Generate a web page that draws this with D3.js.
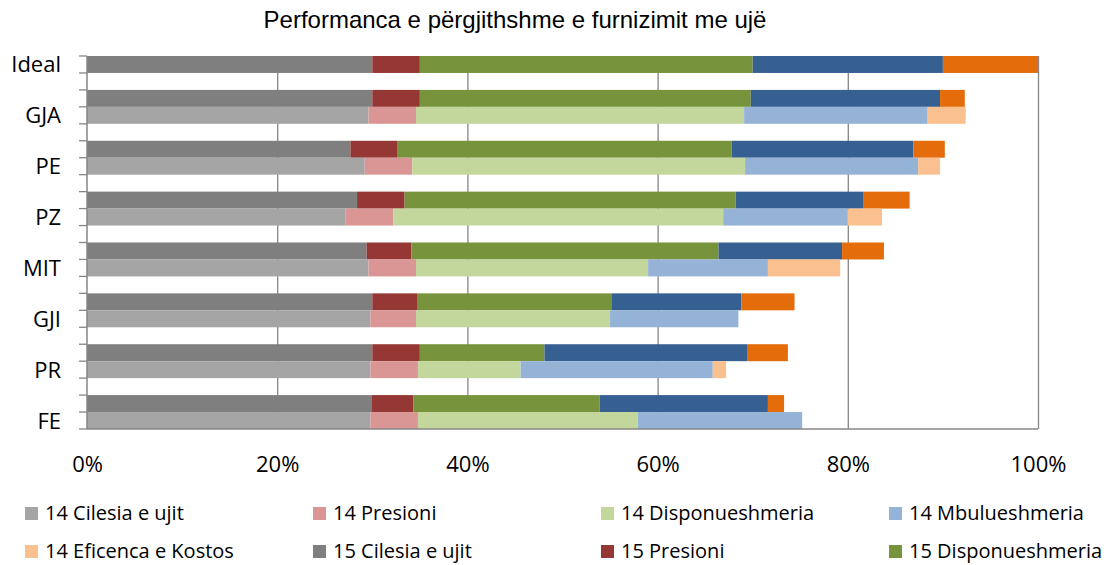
<!DOCTYPE html>
<html>
<head>
<meta charset="utf-8">
<script src="https://cdn.jsdelivr.net/npm/d3@7/dist/d3.min.js"></script>
<style>
  body { margin: 0; background: #fff; }
  svg { display: block; }
</style>
</head>
<body>
<svg id="chart" width="1111" height="565"></svg>
<script>
const categories = ["Ideal", "GJA", "PE", "PZ", "MIT", "GJI", "PR", "FE"];

// 2015 values (%) per category
const cilesia15 = [30, 30, 27.7, 28.4, 29.4, 30.0, 30.0, 29.9];
const presioni15 = [5, 5, 4.9, 5.0, 4.7, 4.7, 5.0, 4.4];
const disponueshmeria15 = [35, 34.8, 35.2, 34.8, 32.3, 20.5, 13.1, 19.6];
const mbulueshmeria15 = [20, 19.9, 19.1, 13.4, 13.0, 13.6, 21.3, 17.7];
const eficenca15 = [10, 2.6, 3.3, 4.9, 4.4, 5.6, 4.3, 1.7];

// 2014 values (%) per category, Ideal has no 2014 bar
const cilesia14 = [null, 29.6, 29.2, 27.2, 29.6, 29.8, 29.8, 29.8];
const presioni14 = [null, 5.0, 5.0, 5.0, 5.0, 4.8, 5.0, 5.0];
const disponueshmeria14 = [null, 34.5, 35.0, 34.7, 24.4, 20.4, 10.8, 23.1];
const mbulueshmeria14 = [null, 19.3, 18.2, 13.1, 12.6, 13.5, 20.2, 17.3];
const eficenca14 = [null, 4.0, 2.3, 3.6, 7.6, 0, 1.4, 0];

const xTicks = [0, 20, 40, 60, 80, 100];

const series14 = [
  { name: "14 Cilesia e ujit", values: cilesia14, color: "#a5a5a5" },
  { name: "14 Presioni", values: presioni14, color: "#d99694" },
  { name: "14 Disponueshmeria", values: disponueshmeria14, color: "#c3d69b" },
  { name: "14 Mbulueshmeria", values: mbulueshmeria14, color: "#95b3d7" },
  { name: "14 Eficenca e Kostos", values: eficenca14, color: "#fac090" }
];
const series15 = [
  { name: "15 Cilesia e ujit", values: cilesia15, color: "#7f7f7f" },
  { name: "15 Presioni", values: presioni15, color: "#953735" },
  { name: "15 Disponueshmeria", values: disponueshmeria15, color: "#77933c" },
  { name: "15 Mbulueshmeria", values: mbulueshmeria15, color: "#376092" },
  { name: "15 Eficenca e Kostos", values: eficenca15, color: "#e46c0a" }
];

// rows: Ideal, gap, then (15, 14, gap) per category, last gap dropped
const rows = [];
categories.forEach((c, i) => {
  rows.push({ id: c + "-15", cat: i, year: 15 });
  if (i > 0) rows.push({ id: c + "-14", cat: i, year: 14 });
  if (i < categories.length - 1) rows.push({ id: c + "-gap", cat: i, year: null });
});

const svg = d3.select("#chart");
const margin = { top: 56, right: 73, bottom: 136, left: 87 };
const width = 1111 - margin.left - margin.right;
const height = 565 - margin.top - margin.bottom;

const chart = svg.append("g")
  .attr("transform", `translate(${margin.left},${margin.top})`);

const x = d3.scaleLinear().domain([0, 100]).range([0, width]);
const y = d3.scaleBand().domain(rows.map(r => r.id)).range([0, height]).padding(0);

// vertical gridlines
chart.append("g")
  .attr("class", "grid")
  .call(d3.axisBottom(x).tickValues(xTicks.slice(1)).tickSize(height).tickFormat(""))
  .call(g => g.select(".domain").remove())
  .selectAll("line")
  .attr("stroke", "#868686")
  .attr("stroke-width", 1.3);

// stacked bars
rows.filter(r => r.year !== null).forEach(r => {
  const series = r.year === 15 ? series15 : series14;
  let acc = 0;
  series.forEach(s => {
    const v = s.values[r.cat];
    if (v == null || v === 0) return;
    chart.append("rect")
      .attr("x", x(acc))
      .attr("y", y(r.id))
      .attr("width", x(acc + v) - x(acc))
      .attr("height", y.bandwidth())
      .attr("fill", s.color);
    acc += v;
  });
});

// left axis with ticks at row boundaries
const boundaries = rows.map(r => y(r.id)).concat([height]);
chart.append("line")
  .attr("x1", 0).attr("x2", 0)
  .attr("y1", 0).attr("y2", height)
  .attr("stroke", "#868686").attr("stroke-width", 1.5);
chart.selectAll(".ytick")
  .data(boundaries)
  .enter()
  .append("line")
  .attr("class", "ytick")
  .attr("x1", -8).attr("x2", 0)
  .attr("y1", d => d).attr("y2", d => d)
  .attr("stroke", "#868686").attr("stroke-width", 1.3);

// bottom axis line
chart.append("line")
  .attr("x1", 0).attr("x2", width)
  .attr("y1", height).attr("y2", height)
  .attr("stroke", "#868686").attr("stroke-width", 1.5);

// category labels (Ideal on its row, others on the 14 row)
const labelRows = rows.filter(r => (r.cat === 0 && r.year === 15) || r.year === 14);
chart.selectAll(".ylabel")
  .data(labelRows)
  .enter()
  .append("text")
  .attr("class", "ylabel")
  .attr("x", -26)
  .attr("y", d => y(d.id) + y.bandwidth() / 2 + 8)
  .attr("text-anchor", "end")
  .style("font-family", "'Open Sans', sans-serif")
  .style("font-size", "22px")
  .attr("fill", "#000")
  .text(d => categories[d.cat]);

// x tick labels
chart.append("g")
  .attr("transform", `translate(0,${height})`)
  .call(d3.axisBottom(x).tickValues(xTicks).tickSize(0).tickPadding(0).tickFormat(d => d + "%"))
  .call(g => g.select(".domain").remove())
  .selectAll("text")
  .attr("y", 43)
  .attr("dy", null)
  .style("font-family", "'Open Sans', sans-serif")
  .style("font-size", "22px")
  .attr("fill", "#000");

// title
svg.append("text")
  .attr("x", 515)
  .attr("y", 28)
  .attr("text-anchor", "middle")
  .style("font-family", "'Liberation Sans', Arial, sans-serif")
  .style("font-size", "24px")
  .attr("fill", "#000")
  .text("Performanca e përgjithshme e furnizimit me ujë");

// legend (only the visible first two rows)
const legendItems = series14.concat(series15).slice(0, 8);
const legend = svg.append("g")
  .selectAll(".legend")
  .data(legendItems)
  .enter()
  .append("g")
  .attr("class", "legend")
  .attr("transform", (d, i) => `translate(${25 + (i % 4) * 288},${507 + Math.floor(i / 4) * 38})`);

legend.append("rect")
  .attr("width", 13)
  .attr("height", 13)
  .attr("fill", d => d.color);

legend.append("text")
  .attr("x", 20)
  .attr("y", 13)
  .style("font-family", "'Open Sans', sans-serif")
  .style("font-size", "20px")
  .attr("fill", "#000")
  .text(d => d.name);
</script>
</body>
</html>
